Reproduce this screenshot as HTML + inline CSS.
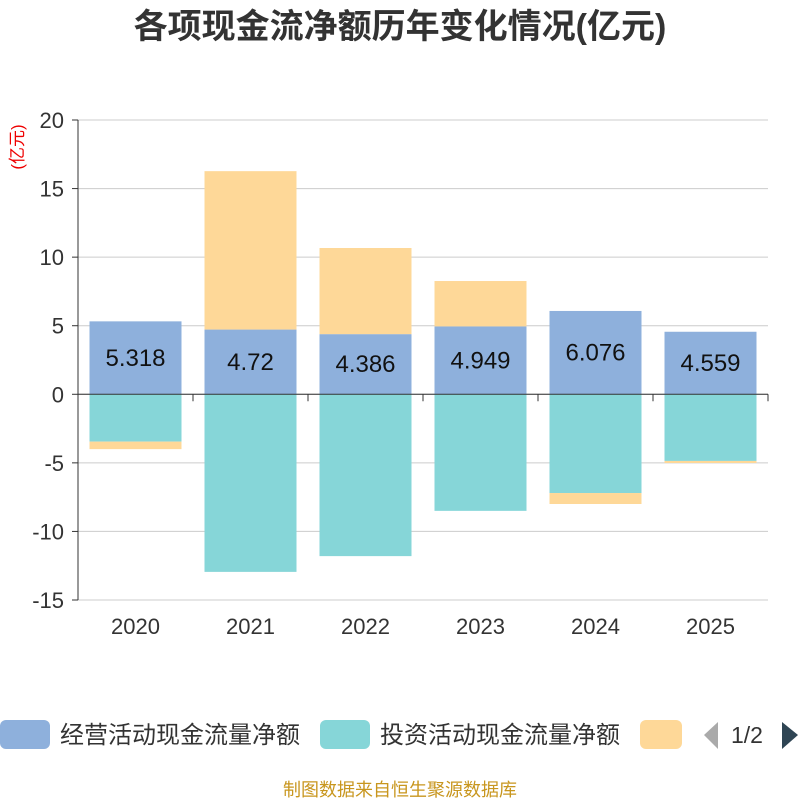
<!DOCTYPE html>
<html><head><meta charset="utf-8"><style>
body{margin:0;background:#fff;}
svg{display:block;font-family:"Liberation Sans","Noto Sans CJK SC",sans-serif;}
</style></head><body>
<svg id="c" width="800" height="800">
<text x="400" y="38" text-anchor="middle" font-size="34" font-weight="bold" fill="#333">各项现金流净额历年变化情况(亿元)</text>
<text transform="translate(23,147) rotate(-90)" text-anchor="middle" font-size="17" fill="#e00">(亿元)</text>
<g id="grid"></g><g id="bars"></g><g id="axes"></g>
<g>
<rect x="0" y="720" width="50" height="29" rx="6" fill="#8eb0dc"/>
<text x="60" y="743" font-size="24" fill="#333">经营活动现金流量净额</text>
<rect x="320" y="720" width="50" height="29" rx="6" fill="#86d6d8"/>
<text x="380" y="743" font-size="24" fill="#333">投资活动现金流量净额</text>
<rect x="640" y="720" width="42" height="29" rx="6" fill="#fed898"/>
<polygon points="718,722 718,749 704,735" fill="#aaa"/>
<text x="731" y="743" font-size="23" fill="#333">1/2</text>
<polygon points="782,722 782,749 798,735" fill="#2f4554"/>
</g>
<text x="400" y="796" text-anchor="middle" font-size="18" fill="#c8961e">制图数据来自恒生聚源数据库</text>
</svg>
<script>
const years=["2020","2021","2022","2023","2024","2025"];
const operating=[5.318,4.72,4.386,4.949,6.076,4.559];
const investing=[-3.45,-12.95,-11.8,-8.5,-7.2,-4.86];
const financing=[-0.55,11.55,6.28,3.31,-0.8,-0.15];
const yTicks=[20,15,10,5,0,-5,-10,-15];
const NS="http://www.w3.org/2000/svg";
const X0=78,X1=768,Y0=120,Y1=600,ymax=20,ymin=-15;
const y=v=>Y0+(ymax-v)*(Y1-Y0)/(ymax-ymin);
const band=(X1-X0)/years.length;
const xc=i=>X0+band*(i+0.5);
function mk(t,a,p){const e=document.createElementNS(NS,t);for(const k in a)e.setAttribute(k,a[k]);p.appendChild(e);return e;}
const grid=document.getElementById('grid'),bars=document.getElementById('bars'),axes=document.getElementById('axes');
yTicks.forEach(v=>{
 const l=mk('line',{x1:X0,x2:X1,y1:y(v),y2:y(v),stroke:'#ccc','stroke-width':1},grid);
 
 
 const t=mk('text',{x:X0-14,y:y(v)+8,'text-anchor':'end','font-size':22,fill:'#333'},axes);
 t.textContent=v;
 
 
 mk('line',{x1:X0-6,x2:X0,y1:y(v),y2:y(v),stroke:'#333'},axes);
});
mk('line',{x1:X0,x2:X0,y1:Y0,y2:Y1,stroke:'#333'},axes);
mk('line',{x1:X0,x2:X1,y1:y(0),y2:y(0),stroke:'#333'},axes);
const bw=92;
years.forEach((yr,i)=>{
 let pos=0,neg=0;
 const segs=[[operating[i],'#8eb0dc','bar-operating'],[investing[i],'#86d6d8','bar-investing'],[financing[i],'#fed898','bar-financing']];
 segs.forEach(([v,c,n])=>{
  let a,b;
  if(v>=0){a=pos;b=pos+v;pos=b;}else{a=neg;b=neg+v;neg=b;}
  const r=mk('rect',{x:xc(i)-bw/2,y:Math.min(y(a),y(b)),width:bw,height:Math.abs(y(a)-y(b)),fill:c},bars);
  
  
 });
 const lb=mk('text',{x:xc(i),y:y(operating[i]/2)+8,'text-anchor':'middle','font-size':24,fill:'#111'},bars);
 lb.textContent=operating[i];
 
 
 const t=mk('text',{x:xc(i),y:Y1+34,'text-anchor':'middle','font-size':22,fill:'#333'},axes);
 t.textContent=yr;
 
 
 mk('line',{x1:X0+band*(i+1),x2:X0+band*(i+1),y1:y(0),y2:y(0)+7,stroke:'#333'},axes);
});
</script>
</body></html>
